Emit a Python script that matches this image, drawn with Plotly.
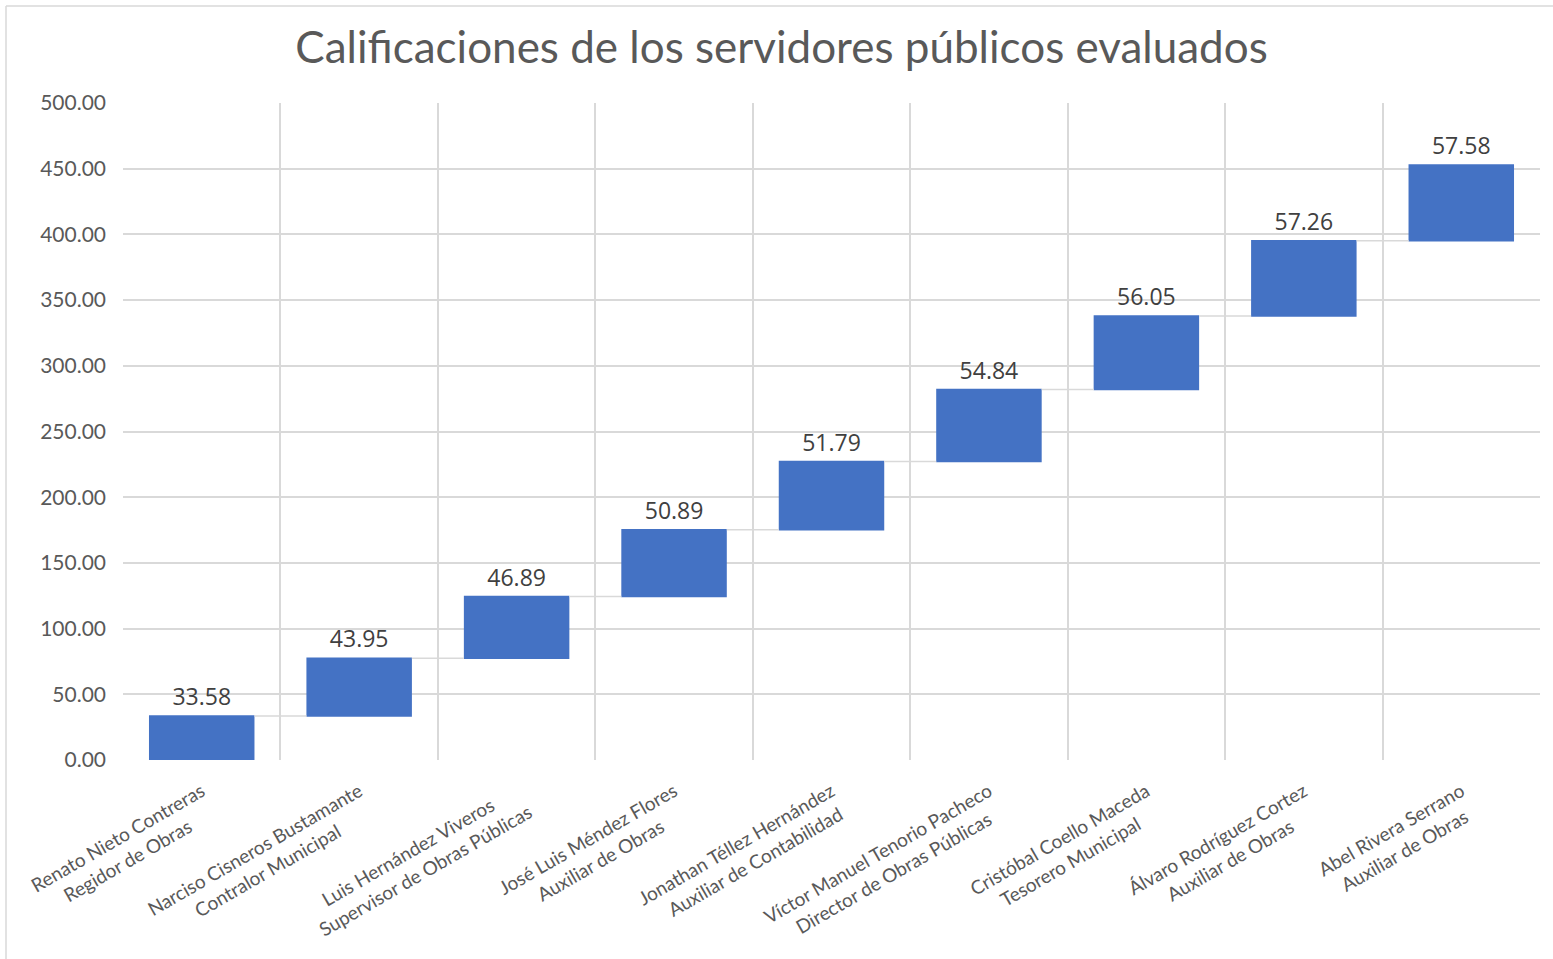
import plotly.graph_objects as go

names = [
    "Renato Nieto Contreras|Regidor de Obras",
    "Narciso Cisneros Bustamante|Contralor Municipal",
    "Luis Hernández Viveros|Supervisor de Obras Públicas",
    "José Luis Méndez Flores|Auxiliar de Obras",
    "Jonathan Téllez Hernández|Auxiliar de Contabilidad",
    "Víctor Manuel Tenorio Pacheco|Director de Obras Públicas",
    "Cristóbal Coello Maceda|Tesorero Municipal",
    "Álvaro Rodríguez Cortez|Auxiliar de Obras",
    "Abel Rivera Serrano|Auxiliar de Obras",
]
scores = [33.58, 43.95, 46.89, 50.89, 51.79, 54.84, 56.05, 57.26, 57.58]
y_ticks = [0, 50, 100, 150, 200, 250, 300, 350, 400, 450, 500]


def centered(label):
    # pad the shorter line so the two lines look centred when right-anchored
    a, b = label.split("|")
    d = len(a) - len(b)
    if d > 0:
        b = b + "&nbsp;" * d
    elif d < 0:
        a = a + "&nbsp;" * (-d)
    return a + "<br>" + b


W, H = 1553, 959
L, R, T, B = 123, 13, 103, 199
pw, ph = W - L - R, H - T - B

fig = go.Figure(go.Waterfall(
    x=[centered(n) for n in names],
    y=scores,
    measure=["relative"] * len(scores),
    text=[f"{v:.2f}" for v in scores],
    textposition="outside",
    textfont=dict(family="Open Sans", size=23, color="#404040"),
    increasing=dict(marker=dict(color="#4472C4")),
    decreasing=dict(marker=dict(color="#4472C4")),
    connector=dict(line=dict(color="#d9d9d9", width=1.5)),
    cliponaxis=False,
    hoverinfo="y",
))

border_x = (6 - L) / pw
border_y = 1 + (T - 6) / ph
fig.update_layout(
    width=W, height=H,
    margin=dict(l=L, r=R, t=T, b=B),
    paper_bgcolor="white", plot_bgcolor="white",
    waterfallgap=0.33,
    showlegend=False,
    title=dict(text="Calificaciones de los servidores públicos evaluados",
               x=781.5 / W, xanchor="center", y=1 - 48 / H, yanchor="middle",
               font=dict(family="Lato", size=44, color="#595959")),
    font=dict(family="Lato", color="#595959"),
    xaxis=dict(type="category", tickson="boundaries", showgrid=True,
               gridcolor="#d9d9d9", gridwidth=1.5, tickangle=-30,
               tickfont=dict(family="Lato", size=19, color="#595959"),
               ticks="", showline=False, zeroline=False, ticklabelstandoff=16,
               automargin=False),
    yaxis=dict(range=[0, 500], tickvals=y_ticks, tickformat=".2f",
               showgrid=True, gridcolor="#d9d9d9", gridwidth=1.5,
               tickfont=dict(family="Lato", size=21, color="#595959"),
               zeroline=False, showline=False, ticks="", ticklabelstandoff=16,
               automargin=False),
    shapes=[
        dict(type="line", xref="paper", yref="paper",
             x0=border_x, x1=border_x, y0=(H - B - 960) / ph, y1=border_y,
             line=dict(color="#d9d9d9", width=1.5), layer="below"),
        dict(type="line", xref="paper", yref="paper",
             x0=border_x, x1=(1560 - L) / pw, y0=border_y, y1=border_y,
             line=dict(color="#d9d9d9", width=1.5), layer="below"),
    ],
)

fig.write_html("out.html", config={"displayModeBar": False},
               post_script="document.body.style.margin='0';")
